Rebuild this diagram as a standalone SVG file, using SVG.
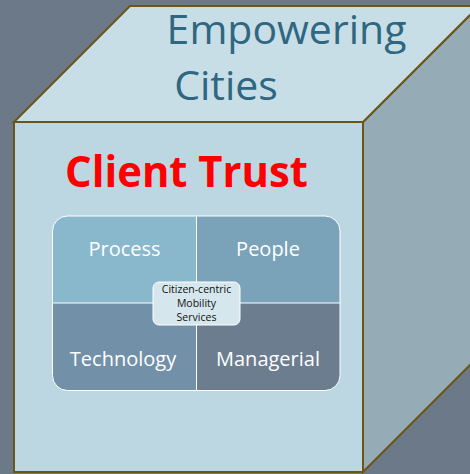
<svg xmlns="http://www.w3.org/2000/svg" width="470" height="474" viewBox="0 0 470 474">
  <style>
    .edge { stroke: #6b5616; stroke-width: 2; stroke-linejoin: miter; }
    .title { font-family: "Open Sans", "Noto Sans", sans-serif; font-size: 41px; fill: #2f6680; }
    .quad { font-family: "Open Sans", "Noto Sans", sans-serif; font-size: 20px; fill: #ffffff; text-anchor: middle; }
    .center { font-family: "Open Sans", "Noto Sans", sans-serif; font-size: 10.5px; fill: #111111; text-anchor: middle; }
  </style>
  <defs>
    <clipPath id="boxClip">
      <rect x="52.5" y="216" width="287.5" height="174.5" rx="15" ry="15"/>
    </clipPath>
  </defs>
  <rect x="0" y="0" width="470" height="474" fill="#6b7989"/>

  <g id="cube">
    <polygon class="edge" points="363,122 479,6 479,356 363,472" fill="#95abb5"/>
    <polygon class="edge" points="14,122 130,6 479,6 363,122" fill="#c8dee7"/>
    <rect class="edge" x="14" y="122" width="349" height="350" fill="#bcd7e2"/>
  </g>

  <g id="title">
    <text class="title" x="286.5" y="44" text-anchor="middle">Empowering</text>
    <text class="title" x="226" y="100" text-anchor="middle">Cities</text>
  </g>

  <g id="client-trust">
    <text x="186.5" y="187" text-anchor="middle" font-family="'Open Sans', 'Noto Sans', sans-serif" font-weight="bold" font-size="43" fill="#ff0000" textLength="243" lengthAdjust="spacingAndGlyphs">Client Trust</text>
  </g>

  <g id="matrix">
    <g clip-path="url(#boxClip)">
      <rect id="process-bg" x="52" y="215" width="144.5" height="88" fill="#89b8cd"/>
      <rect id="people-bg" x="196.5" y="215" width="144" height="88" fill="#7aa3b9"/>
      <rect id="technology-bg" x="52" y="303" width="144.5" height="88" fill="#7291a9"/>
      <rect id="managerial-bg" x="196.5" y="303" width="144" height="88" fill="#6c7d8f"/>
      <line x1="196.5" y1="216" x2="196.5" y2="391" stroke="#ffffff" stroke-width="1"/>
      <line x1="52" y1="303" x2="341" y2="303" stroke="#ffffff" stroke-width="1"/>
    </g>
    <rect x="52.5" y="216" width="287.5" height="174.5" rx="15" ry="15" fill="none" stroke="#ffffff" stroke-width="1"/>
  </g>

  <g id="process"><text class="quad" x="124.5" y="256">Process</text></g>
  <g id="people"><text class="quad" x="268" y="256">People</text></g>
  <g id="technology"><text class="quad" x="123" y="366">Technology</text></g>
  <g id="managerial"><text class="quad" x="268" y="366">Managerial</text></g>

  <g id="core">
    <rect x="153" y="282" width="87" height="43" rx="6" ry="6" fill="#d5e6ec" stroke="#ffffff" stroke-width="1"/>
    <text class="center" x="196.5" y="293">Citizen-centric</text>
    <text class="center" x="196.5" y="307">Mobility</text>
    <text class="center" x="196.5" y="321">Services</text>
  </g>
</svg>
